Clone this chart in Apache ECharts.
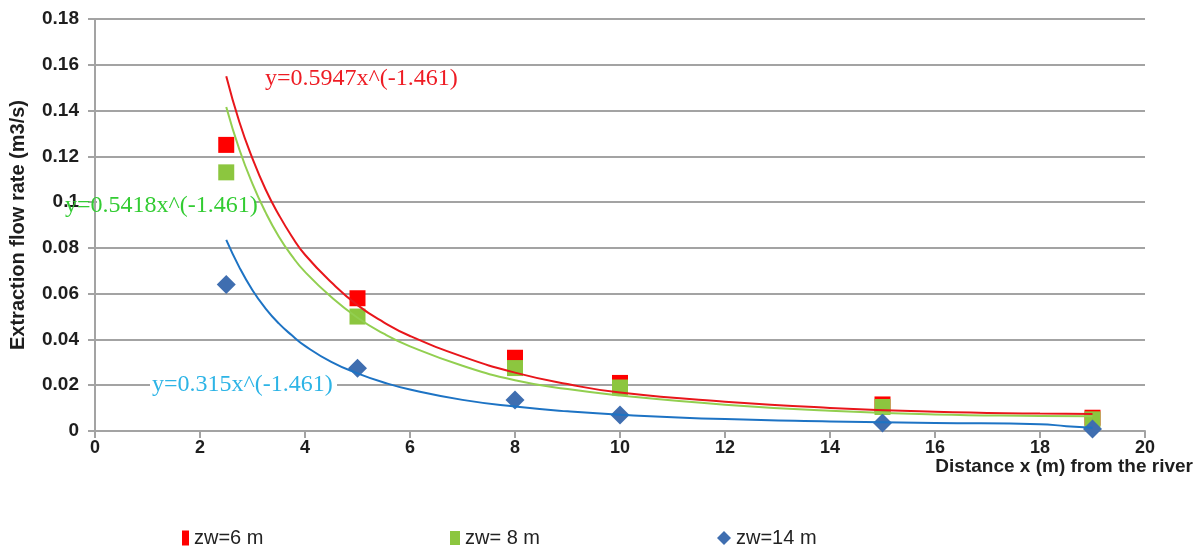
<!DOCTYPE html>
<html>
<head>
<meta charset="utf-8">
<script src="https://cdn.jsdelivr.net/npm/echarts@6/dist/echarts.min.js"></script>
<style>
html,body{margin:0;padding:0;background:#fff;}
#chart{width:1198px;height:547px;}
</style>
</head>
<body>
<div id="chart"></div>
<script>
// Measured points
const seriesNames = ['zw=6 m', 'zw= 8 m', 'zw=14 m'];
const pts6  = [[2.5,0.125],[5,0.058],[8,0.032],[10,0.021],[15,0.0116],[19,0.0058]];
const pts8  = [[2.5,0.113],[5,0.050],[8,0.0275],[10,0.019],[15,0.0105],[19,0.0051]];
const pts14 = [[2.5,0.064],[5,0.0274],[8,0.0135],[10,0.007],[15,0.0035],[19,0.0009]];

// Trend lines
const trend6  = [[2.5,0.155],[2.75,0.135],[3,0.119],[3.25,0.1055],[3.5,0.0945],[3.75,0.085],[4,0.077],[4.5,0.065],[5,0.055],[5.5,0.0475],[6,0.0415],[7,0.0325],[8,0.0255],[9,0.0205],[10,0.0168],[12,0.0128],[14,0.0101],[16,0.0084],[18,0.0076],[19,0.0074]];
const trend8  = [[2.5,0.1416],[2.75,0.123],[3,0.108],[3.25,0.0955],[3.5,0.085],[3.75,0.0765],[4,0.0695],[4.5,0.0585],[5,0.0495],[5.5,0.0425],[6,0.037],[7,0.0285],[8,0.0222],[9,0.0183],[10,0.0155],[12,0.0115],[14,0.0088],[16,0.0072],[18,0.0066],[19,0.0064]];
const trend14 = [[2.5,0.0835],[2.75,0.0715],[3,0.0615],[3.25,0.0535],[3.5,0.047],[3.75,0.0418],[4,0.0372],[4.5,0.0302],[5,0.0252],[5.5,0.0212],[6,0.0181],[7,0.0136],[8,0.0107],[9,0.0086],[10,0.0071],[12,0.0052],[14,0.0042],[16,0.0035],[18,0.003],[18.5,0.0021],[19,0.0014]];

const equations = ['y=0.5947x^(-1.461)', 'y=0.5418x^(-1.461)', 'y=0.315x^(-1.461)'];
const xTitle = 'Distance x (m) from the river';
const yTitle = 'Extraction flow rate (m3/s)';

const gridColor = '#a3a3a3';
const labelFont = {color:'#1e1e1e', fontSize:18, fontWeight:'bold', fontFamily:'Liberation Sans, Arial, sans-serif'};
const serifFont = '24px "Liberation Serif", "Times New Roman", serif';

const chart = echarts.init(document.getElementById('chart'), null, {renderer:'canvas'});

function legendFor(name, left, icon, w, h, color){
  return {
    data:[{name:name, icon:icon, itemStyle:{color:color, opacity:1}}],
    left:left, top:523, itemWidth:w, itemHeight:h, itemGap:0,
    textStyle:{color:'#222', fontSize:20, fontFamily:'Liberation Sans Narrow, Liberation Sans, Arial, sans-serif'},
    selectedMode:false
  };
}

const option = {
  backgroundColor:'#fff',
  animation:false,
  grid:{left:95, right:53, top:19, bottom:116, containLabel:false, outerBoundsMode:'none'},
  legend:[
    legendFor(seriesNames[0], 177, 'rect', 7, 15, '#ff0000'),
    legendFor(seriesNames[1], 445, 'rect', 10, 14, '#8cc63f'),
    legendFor(seriesNames[2], 712, 'diamond', 14, 14, '#3f6eb0')
  ],
  xAxis:{
    type:'value', min:0, max:20, interval:2,
    axisLine:{show:true, onZero:false, lineStyle:{color:gridColor, width:2}},
    axisTick:{show:true, length:7, lineStyle:{color:gridColor, width:2}},
    axisLabel:Object.assign({margin:8}, labelFont),
    splitLine:{show:false}
  },
  yAxis:{
    type:'value', min:0, max:0.18, interval:0.02,
    axisLine:{show:true, lineStyle:{color:gridColor, width:2}},
    axisTick:{show:true, length:7, lineStyle:{color:gridColor, width:2}},
    axisLabel:Object.assign({margin:16, fontSize:19, formatter:function(v){return String(parseFloat(v.toFixed(2)));}}, {color:'#1e1e1e', fontWeight:'bold', fontFamily:'Liberation Sans, Arial, sans-serif'}),
    splitLine:{show:true, lineStyle:{color:gridColor, width:2}},
    name:yTitle, nameLocation:'middle', nameRotate:90, nameGap:67,
    nameTextStyle:{color:'#1e1e1e', fontSize:20, fontWeight:'bold', fontFamily:'Liberation Sans, Arial, sans-serif'}
  },
  series:[
    {name:seriesNames[0], type:'scatter', data:pts6, symbol:'rect', symbolSize:16, itemStyle:{color:'#ff0000', opacity:1}, z:2},
    {name:seriesNames[1], type:'scatter', data:pts8, symbol:'rect', symbolSize:16, itemStyle:{color:'#8cc63f', opacity:1}, z:2},
    {name:seriesNames[2], type:'scatter', data:pts14, symbol:'diamond', symbolSize:19, itemStyle:{color:'#3f6eb0', opacity:1}, z:2},
    {name:'trend6', type:'line', data:trend6, smooth:true, showSymbol:false, symbol:'none', lineStyle:{color:'#e8161b', width:2}, z:3},
    {name:'trend8', type:'line', data:trend8, smooth:true, showSymbol:false, symbol:'none', lineStyle:{color:'#92cf50', width:2}, z:3},
    {name:'trend14', type:'line', data:trend14, smooth:true, showSymbol:false, symbol:'none', lineStyle:{color:'#1d73c4', width:2}, z:3}
  ],
  graphic:[
    // white masks hiding the gridline behind the equation labels
    {type:'rect', left:97, top:199, z:5, shape:{width:157, height:7}, style:{fill:'#fff'}},
    {type:'rect', left:150, top:381, z:5, shape:{width:187, height:8}, style:{fill:'#fff'}},
    {type:'text', left:265, top:67, z:10, style:{text:equations[0], fill:'#ee1c24', font:serifFont}},
    {type:'text', left:65, top:194, z:10, style:{text:equations[1], fill:'#33cc33', font:serifFont}},
    {type:'text', left:152, top:373, z:10, style:{text:equations[2], fill:'#2db4e6', font:serifFont}},
    {type:'text', right:5, top:457, z:10, style:{text:xTitle, fill:'#1e1e1e', font:'bold 19px "Liberation Sans", Arial, sans-serif'}}
  ]
};
chart.setOption(option);
</script>
</body>
</html>
